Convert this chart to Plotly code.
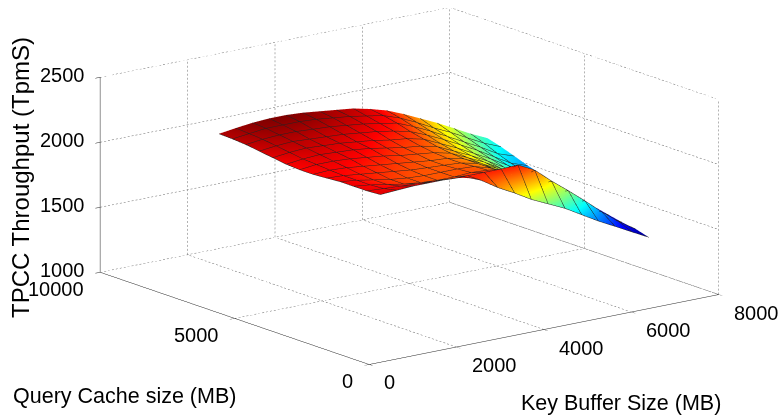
import math
import plotly.graph_objects as go

key_buffer = [256,640,1024,1408,1792,2176,2560,2944,3328,3712,4096,4480,4864,5248,5632,6016,6400]
query_cache = [0,500,1000,1500,2000,2500,3000,3500,4000,4500,5000,5500,6000]
tpcc_rows = [
[2290,2298,2305,2305,2305,2298,2245,2163,2095,2020,1960,1900,1825,1750,1683,1615,1548],
[2283,2275,2268,2260,2253,2245,2245,2245,2245,2250,2185,2075,1975,1870,1760,1660,1578],
[2283,2268,2245,2223,2208,2200,2200,2208,2200,2163,2088,2005,1923,1833,1750,1668,1593],
[2283,2268,2245,2223,2208,2200,2200,2200,2193,2155,2088,2013,1930,1848,1765,1683,1615],
[2275,2268,2253,2238,2223,2208,2200,2193,2185,2155,2088,2020,1945,1863,1780,1705,1638],
[2268,2275,2268,2253,2238,2223,2208,2193,2185,2155,2095,2028,1953,1878,1795,1720,1660],
[2268,2283,2283,2275,2260,2245,2223,2208,2193,2163,2103,2043,1968,1893,1818,1743,1683],
[2275,2290,2298,2290,2283,2268,2245,2223,2208,2178,2118,2058,1990,1915,1840,1765,1713],
[2290,2305,2313,2305,2298,2283,2268,2245,2230,2200,2140,2080,2013,1945,1870,1795,1750],
[2305,2320,2328,2320,2313,2305,2290,2275,2253,2223,2170,2110,2043,1975,1900,1825,1780],
[2320,2335,2343,2343,2335,2328,2313,2298,2275,2253,2200,2140,2073,2005,1938,1863,1818],
[2328,2343,2358,2358,2358,2350,2335,2320,2298,2275,2230,2170,2103,2043,1975,1908,1855],
[2332,2350,2365,2373,2373,2365,2350,2335,2320,2290,2253,2200,2140,2080,2013,1945,1885],
]
x_ticks = [0,2000,4000,6000,8000]
y_ticks = [0,5000,10000]
z_ticks = [1000,1500,2000,2500]
x_max, y_max, z_min, z_max = 8000, 10000, 1000, 2500

jet = [[0,'#00008f'],[0.125,'#0000ff'],[0.375,'#00ffff'],[0.625,'#ffff00'],[0.875,'#ff0000'],[1,'#800000']]
fig = go.Figure()

gx, gy, gz = [], [], []
def seg(a, b):
    # dotted guide line: short pieces, about 2 px on and 2 px off on screen
    du, dv, dw = (b[0]-a[0])/x_max, (b[1]-a[1])/y_max, (b[2]-a[2])/(z_max-z_min)
    px = math.hypot(350*du-271*dv, 70*du+93*dv+196*dw)
    n = max(1, int(px/4))
    for i in range(n):
        t0, t1 = i/n, (i+0.5)/n
        gx.extend([a[0]+(b[0]-a[0])*t0, a[0]+(b[0]-a[0])*t1, None])
        gy.extend([a[1]+(b[1]-a[1])*t0, a[1]+(b[1]-a[1])*t1, None])
        gz.extend([a[2]+(b[2]-a[2])*t0, a[2]+(b[2]-a[2])*t1, None])
for t in x_ticks[1:]:
    seg((t,0,z_min),(t,y_max,z_min)); seg((t,y_max,z_min),(t,y_max,z_max))
for t in y_ticks[1:]:
    seg((0,t,z_min),(x_max,t,z_min)); seg((x_max,t,z_min),(x_max,t,z_max))
seg((x_max,0,z_min),(x_max,0,z_max))
for t in z_ticks:
    seg((0,y_max,t),(x_max,y_max,t)); seg((x_max,y_max,t),(x_max,0,t))
fig.add_trace(go.Scatter3d(x=gx,y=gy,z=gz,mode='lines',line=dict(color='#666666',width=1),
                           connectgaps=False,hoverinfo='skip',showlegend=False))

fig.add_trace(go.Surface(x=key_buffer,y=query_cache,z=tpcc_rows,colorscale=jet,showscale=False,
    lighting=dict(ambient=1,diffuse=0,specular=0,roughness=1,fresnel=0),
    contours=dict(
        x=dict(show=True,start=key_buffer[0],end=key_buffer[-1],size=key_buffer[1]-key_buffer[0],color='#222222',width=1),
        y=dict(show=True,start=query_cache[0],end=query_cache[-1],size=query_cache[1]-query_cache[0],color='#222222',width=1),
    )))

font = dict(family='Liberation Sans',size=20,color='black')
def axis(rng, ticks):
    return dict(range=rng,tickvals=ticks,showticklabels=False,title=dict(text=''),
                showgrid=False,zeroline=False,showbackground=False,showline=True,linecolor='#222222',linewidth=1,
                ticks='outside',ticklen=6,tickcolor='#222222',showspikes=False)

labels = []
for t in x_ticks:
    labels.append(dict(x=t,y=0,z=z_min,text=str(t),showarrow=False,xanchor='left',yanchor='middle',xshift=13,yshift=-18,font=font))
for t in y_ticks:
    labels.append(dict(x=0,y=t,z=z_min,text=str(t),showarrow=False,xanchor='right',yanchor='middle',xshift=-14,yshift=-17,font=font))
for t in z_ticks:
    labels.append(dict(x=0,y=y_max,z=t,text=str(t),showarrow=False,xanchor='right',yanchor='middle',xshift=-13,yshift=2,font=font))

center = dict(x=-0.038,y=0.029,z=-0.152)
direction = dict(x=-0.586,y=-0.767,z=0.262)
fig.update_layout(
    width=783,height=417,margin=dict(l=0,r=0,t=0,b=0),paper_bgcolor='white',showlegend=False,
    scene=dict(
        domain=dict(x=[0,1],y=[0,1]),
        xaxis=axis([0,x_max],x_ticks),yaxis=axis([0,y_max],y_ticks),zaxis=axis([z_min,z_max],z_ticks),
        aspectmode='manual',aspectratio=dict(x=2.11,y=2.125,z=0.969),
        camera=dict(projection=dict(type='orthographic'),up=dict(x=0,y=0,z=1),center=center,
                    eye={k:center[k]+direction[k]*1.6 for k in center}),
        annotations=labels,
    ),
    annotations=[
        dict(text='TPCC Throughput (TpmS)',xref='paper',yref='paper',x=12/783,y=1-170/417,textangle=-90,xanchor='center',yanchor='middle',showarrow=False,font=dict(family='Liberation Sans',size=24,color='black')),
        dict(text='Query Cache size (MB)',xref='paper',yref='paper',x=116/783,y=1-388/417,xanchor='center',yanchor='middle',showarrow=False,font=dict(family='Liberation Sans',size=21.5,color='black')),
        dict(text='Key Buffer Size (MB)',xref='paper',yref='paper',x=613/783,y=1-395/417,xanchor='center',yanchor='middle',showarrow=False,font=dict(family='Liberation Sans',size=21.5,color='black')),
    ])
fig.write_html('out.html',post_script="document.documentElement.style.overflow='hidden';document.body.style.margin='0';var g=document.querySelector('.plotly-graph-div');g.style.position='absolute';g.style.left='8px';g.style.top='8px';")
